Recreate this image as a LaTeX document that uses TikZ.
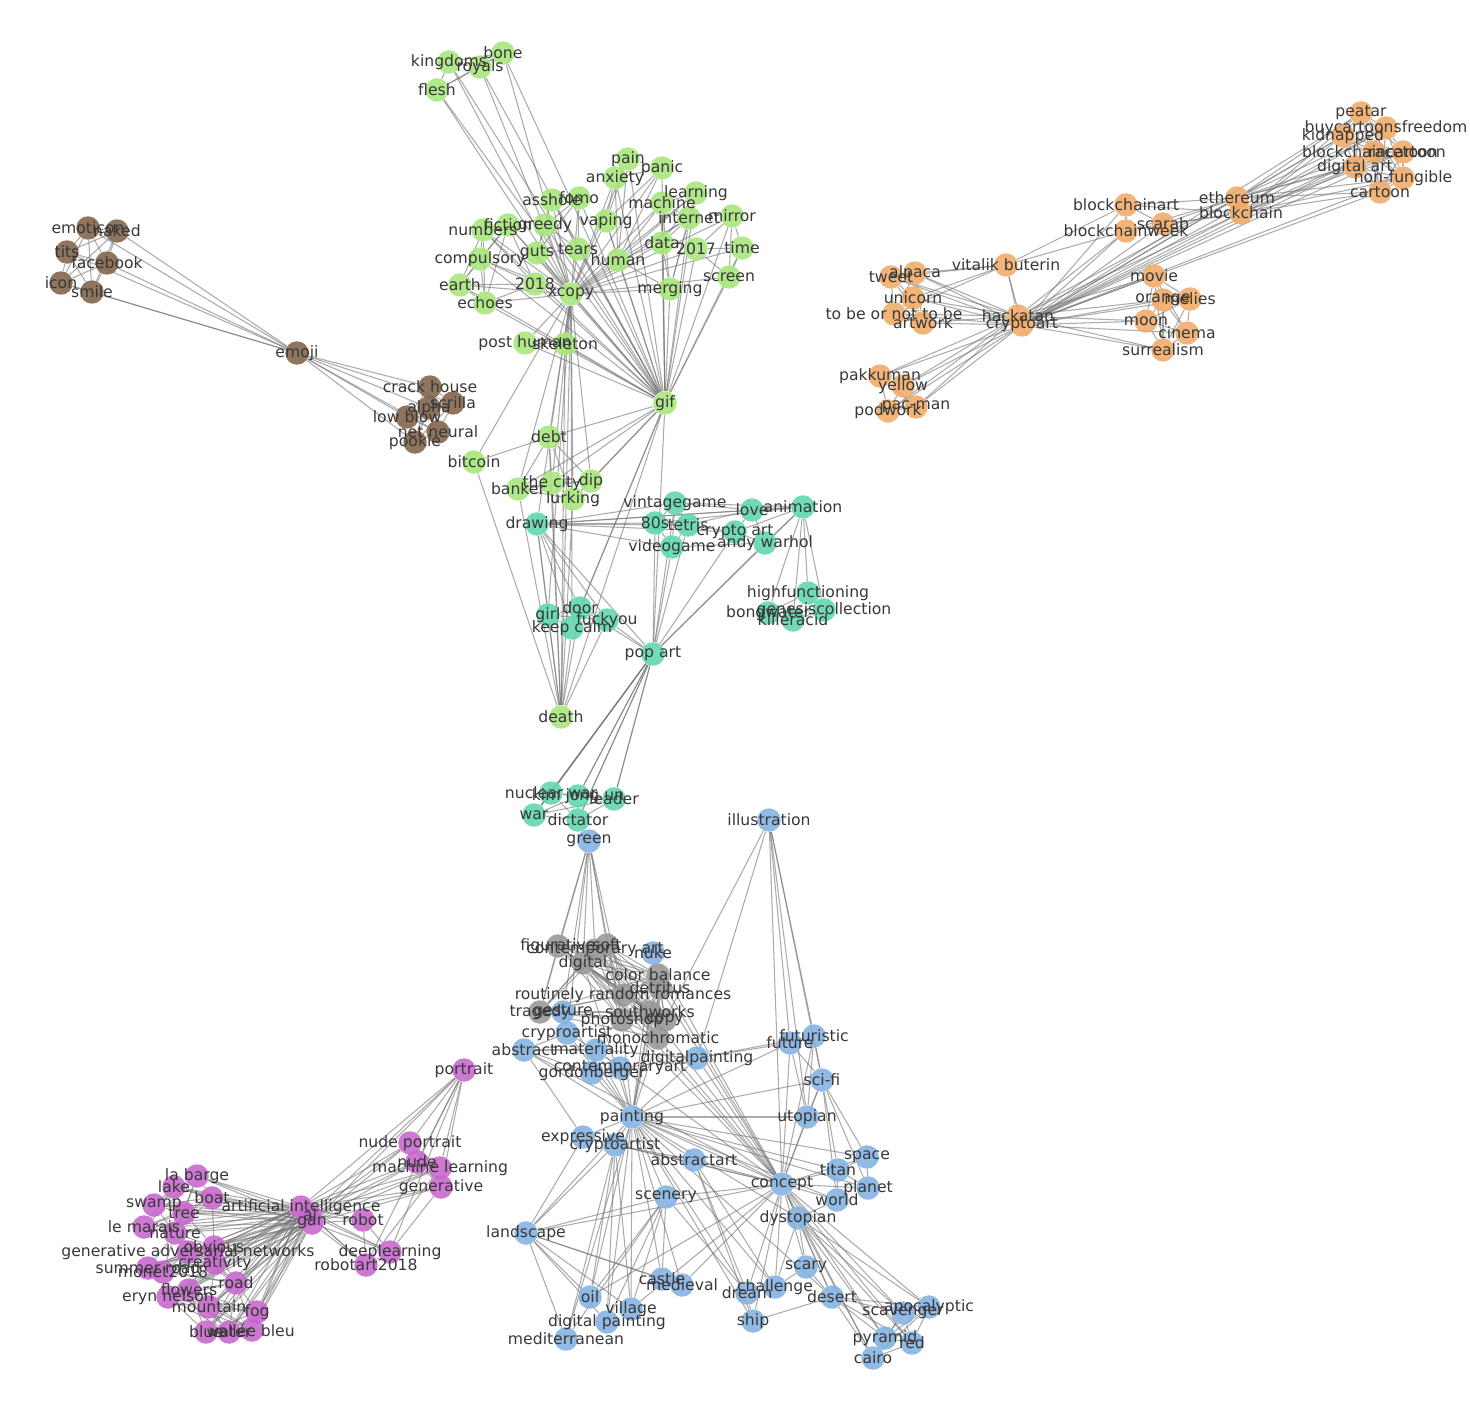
\documentclass[tikz,border=0pt]{standalone}
\usepackage{fontspec}
\setmainfont{DejaVu Sans}
\usetikzlibrary{positioning}
\definecolor{cbrn}{RGB}{128,98,72}
\definecolor{cgrn}{RGB}{166,230,122}
\definecolor{corg}{RGB}{240,170,102}
\definecolor{ctel}{RGB}{92,214,170}
\definecolor{cblu}{RGB}{130,176,224}
\definecolor{cgry}{RGB}{150,150,150}
\definecolor{cprp}{RGB}{198,102,204}
\pgfdeclarelayer{bg}\pgfdeclarelayer{fg}
\pgfsetlayers{bg,main,fg}

\begin{document}
\begin{tikzpicture}[x=0.02cm,y=-0.02cm,
  vtx/.style={circle,inner sep=0pt,minimum size=4.7mm,fill opacity=.88,draw=none},
  vbrn/.style={vtx,fill=cbrn}, vgrn/.style={vtx,fill=cgrn}, vorg/.style={vtx,fill=corg},
  vtel/.style={vtx,fill=ctel}, vblu/.style={vtx,fill=cblu}, vgry/.style={vtx,fill=cgry},
  vprp/.style={vtx,fill=cprp},
  lbl/.style={inner sep=0pt,text=black!78,font=\fontsize{8.9}{10}\selectfont},
  edge/.style={draw=black!55,draw opacity=.6,line width=.6pt}]
\useasboundingbox (0,0) rectangle (1470,1422);
% brown cluster
\foreach \n/\x/\y/\txt in {emoji/297/353/emoji, emoticon/88/228/emoticon, naked/117/231/naked,
  tits/67/252/tits, facebook/107/263/facebook, icon/61/283/icon, smile/92/292/smile,
  crackhouse/430/387/crack house, scrilla/453/403/scrilla, alpha/429/408/alpha,
  lowblow/407/417/low blow, netneural/438/432/net neural, pookie/415/442/pookie} {
  \node[vbrn] (\n) at (\x,\y) {};
  \begin{pgfonlayer}{fg}\node[lbl] at (\n) {\txt};\end{pgfonlayer}
}
% green cluster
\foreach \n/\x/\y/\txt in {kingdoms/449/62/kingdoms, royals/480/67/royals, bone/503/53/bone,
  flesh/437/90/flesh, pain/628/159/pain, panic/662/168/panic, anxiety/615/178/anxiety,
  learning/696/193/learning, asshole/552/200/asshole, fomo/579/198/fomo, machine/662/203/machine,
  vaping/606/221/vaping, internet/689/218/internet, mirror/732/216/mirror, numbers/483/230/numbers,
  fiction/508/225/fiction, greedy/545/225/greedy, guts/537/253/guts, tears/578/249/tears,
  human/618/260/human, data/662/243/data, y2017/696/249/2017, time/742/248/time,
  compulsory/480/259/compulsory, earth/460/285/earth, y2018/535/284/2018, xcopy/571/294/xcopy,
  merging/670/289/merging, screen/729/277/screen, echoes/485/303/echoes,
  posthuman/525/343/post human, skeleton/565/344/skeleton, gif/665/403/gif, debt/549/437/debt,
  bitcoin/474/462/bitcoin, banker/518/489/banker, thecity/552/483/the city, dip/591/481/dip,
  lurking/573/499/lurking, death/561/717/death} {
  \node[vgrn] (\n) at (\x,\y) {};
  \begin{pgfonlayer}{fg}\node[lbl] at (\n) {\txt};\end{pgfonlayer}
}
% orange cluster
\foreach \n/\x/\y/\txt in {peatar/1361/113/peatar, buycartoons/1386/128/buycartoonsfreedom,
  kidnapped/1343/136/kidnapped, blockcartoon/1374/152/blockchaincartoon, racetoon/1403/152/racetoon,
  digitalart/1355/167/digital art, nonfungible/1403/178/non-fungible, cartoon/1380/192/cartoon,
  ethereum/1237/198/ethereum, blockchain/1241/213/blockchain, blockchainart/1126/205/blockchainart,
  scarab/1163/224/scarab, blockchainweek/1126/231/blockchainweek, vitalik/1006/265/vitalik buterin,
  tweet/891/277/tweet, alpaca/915/273/alpaca, unicorn/913/298/unicorn, tobe/894/314/to be or not to be,
  artwork/923/323/artwork, hackatan/1018/316/hackatan, cryptoart/1022/325/cryptoart,
  movie/1154/276/movie, orange/1163/300/orange, melies/1190/299/melies, moon/1146/321/moon,
  cinema/1187/333/cinema, surrealism/1163/350/surrealism, pakkuman/880/376/pakkuman,
  yellow/903/386/yellow, podwork/888/411/podwork, pacman/916/407/pac-man} {
  \node[vorg] (\n) at (\x,\y) {};
  \begin{pgfonlayer}{fg}\node[lbl] at (\n) {\txt};\end{pgfonlayer}
}
% teal cluster
\foreach \n/\x/\y/\txt in {drawing/537/524/drawing, vintagegame/675/503/vintagegame, love/752/510/love,
  animation/803/507/animation, s80/655/523/80s, tetris/688/525/tetris, cryptoartb/735/532/crypto art,
  videogame/672/547/videogame, andywarhol/765/543/andy warhol, highfunc/808/593/highfunctioning,
  bongs/768/613/bongwater, genesis/824/610/genesiscollection, killeracid/793/620/killeracid,
  girl/548/615/girl, door/580/608/door, fuckyou/607/620/fuckyou, keepcalm/572/628/keep calm,
  popart/653/654/pop art, nuclearwar/551/793/nuclear war, kimjongun/578/796/kim jong un,
  leader/614/799/leader, war/534/815/war, dictator/578/820/dictator} {
  \node[vtel] (\n) at (\x,\y) {};
  \begin{pgfonlayer}{fg}\node[lbl] at (\n) {\txt};\end{pgfonlayer}
}
% gray cluster
\foreach \n/\x/\y/\txt in {figurative/558/946/figurative, contemp/595/950/contemporary art,
  soft/607/945/soft, digital/583/963/digital, colorbal/658/975/color balance,
  detritus/660/988/detritus, routinely/623/995/routinely random romances, tragedy/540/1012/tragedy,
  southworks/650/1012/southworks, photoshop/622/1020/photoshop, copyx/665/1020/copy,
  monochrom/658/1038/monochromatic} {
  \node[vgry] (\n) at (\x,\y) {};
  \begin{pgfonlayer}{fg}\node[lbl] at (\n) {\txt};\end{pgfonlayer}
}
% blue cluster
\foreach \n/\x/\y/\txt in {green/589/841/green, illustration/769/820/illustration, nuke/653/953/nuke,
  gesture/563/1012/gesture, cryproartist/567/1033/cryproartist, abstract/524/1050/abstract,
  materiality/596/1050/materiality, digitalpaint/697/1058/digitalpainting,
  contempart/620/1068/contemporaryart, gordon/592/1073/gordonberger, future/790/1043/future,
  futuristic/814/1036/futuristic, scifi/822/1080/sci-fi, utopian/807/1117/utopian,
  space/867/1157/space, titan/838/1170/titan, planet/868/1188/planet, concept/782/1184/concept,
  world/837/1200/world, dystopian/798/1218/dystopian, painting/632/1117/painting,
  expressive/583/1137/expressive, cryptoartist/615/1145/cryptoartist, abstractart/694/1160/abstractart,
  scenery/666/1197/scenery, landscape/526/1233/landscape, castle/662/1279/castle,
  medieval/682/1285/medieval, oil/590/1297/oil, village/631/1309/village,
  digpainting/607/1322/digital painting, mediterranean/566/1339/mediterranean, dream/747/1293/dream,
  ship/753/1321/ship, challenge/775/1287/challenge, scary/806/1267/scary, desert/832/1297/desert,
  scavenger/903/1313/scavenger, apocalyptic/929/1307/apocalyptic, pyramid/885/1338/pyramid,
  red/912/1343/red, cairo/873/1358/cairo} {
  \node[vblu] (\n) at (\x,\y) {};
  \begin{pgfonlayer}{fg}\node[lbl] at (\n) {\txt};\end{pgfonlayer}
}
% purple cluster
\foreach \n/\x/\y/\txt in {portrait/464/1070/portrait, nudeportrait/410/1143/nude portrait,
  nude/417/1162/nude, machinelearning/440/1168/machine learning, generative/441/1187/generative,
  labarge/197/1176/la barge, lake/174/1187/lake, boat/212/1198/boat, swamp/154/1205/swamp,
  tree/184/1213/tree, artint/301/1207/artificial intelligence, ai/310/1215/ai, gan/312/1223/gan,
  robot/363/1220/robot, lemarais/144/1227/le marais, nature/175/1233/nature, obvious/214/1247/obvious,
  gadv/188/1252/generative adversarial networks, creativity/215/1263/creativity,
  summerroad/148/1268/summer road, monet/163/1272/monet2018, robotart/366/1265/robotart2018,
  deeplearning/390/1252/deeplearning, road/236/1283/road, eryn/168/1297/eryn nelson,
  flowers/189/1290/flowers, mountain/209/1307/mountain, fog/257/1312/fog, blue/206/1332/blue,
  water/229/1332/water, vallee/252/1330/vallée bleu} {
  \node[vprp] (\n) at (\x,\y) {};
  \begin{pgfonlayer}{fg}\node[lbl] at (\n) {\txt};\end{pgfonlayer}
}
\begin{pgfonlayer}{bg}
% cliques
\foreach \grp in {{emoji,emoticon,naked,tits,facebook,icon,smile},
  {emoji,crackhouse,scrilla,alpha,lowblow,netneural,pookie},
  {flesh,kingdoms,royals,bone,xcopy,gif}, {pain,panic,anxiety,vaping,human},
  {machine,learning,internet,data,merging,human}, {asshole,fomo,greedy,guts,tears},
  {numbers,fiction,compulsory,earth,echoes,y2018}, {mirror,time,y2017,screen},
  {banker,thecity,dip,lurking,debt}, {girl,door,fuckyou,keepcalm,drawing,death},
  {vintagegame,s80,tetris,videogame}, {love,animation,cryptoartb,andywarhol},
  {animation,highfunc,bongs,genesis,killeracid}, {popart,nuclearwar,kimjongun,leader,war,dictator},
  {peatar,buycartoons,kidnapped,blockcartoon,racetoon,digitalart,nonfungible,cartoon},
  {blockchainart,blockchainweek,scarab,ethereum,blockchain}, {tweet,alpaca,unicorn,tobe,artwork},
  {movie,orange,melies,moon,cinema,surrealism}, {pakkuman,yellow,podwork,pacman},
  {figurative,contemp,soft,digital,colorbal,detritus,routinely,tragedy,southworks,photoshop,copyx,monochrom},
  {scavenger,apocalyptic,pyramid,red,cairo}, {labarge,lake,boat,swamp,tree,lemarais,nature},
  {nature,obvious,gadv,creativity,summerroad,monet,road},
  {eryn,flowers,mountain,fog,blue,water,vallee,road},
  {nudeportrait,nude,machinelearning,generative}, {robot,deeplearning,robotart}} {
  \foreach \a [count=\i] in \grp
    \foreach \b [count=\j] in \grp
      {\ifnum\j>\i \draw[edge] (\a) -- (\b);\fi}
}
% green hubs
\foreach \a in {pain,panic,anxiety,learning,asshole,fomo,machine,vaping,internet,mirror,numbers,
  fiction,greedy,guts,tears,human,data,y2017,time,compulsory,earth,y2018,merging,screen,echoes,
  posthuman,skeleton,debt,thecity,dip,banker,lurking,death} {
  \draw[edge] (xcopy) -- (\a);
  \draw[edge] (gif) -- (\a);
}
\foreach \a/\b in {posthuman/skeleton, debt/bitcoin, bitcoin/xcopy, bitcoin/death, death/banker,
  death/thecity, death/lurking, death/debt, death/skeleton, xcopy/girl, xcopy/keepcalm, xcopy/drawing,
  gif/door, gif/keepcalm, gif/popart}
  \draw[edge] (\a) -- (\b);
% teal
\foreach \a in {vintagegame,s80,tetris,videogame,love,animation,cryptoartb,popart}
  \draw[edge] (drawing) -- (\a);
\foreach \a in {s80,tetris,videogame,vintagegame,cryptoartb,andywarhol,animation,nuclearwar,
  kimjongun,leader,war,dictator,fuckyou,door}
  \draw[edge] (popart) -- (\a);
\foreach \a/\b in {vintagegame/love, vintagegame/animation, s80/animation, tetris/love,
  tetris/cryptoartb, videogame/andywarhol}
  \draw[edge] (\a) -- (\b);
% orange hubs
\foreach \a in {peatar,buycartoons,kidnapped,blockcartoon,racetoon,digitalart,nonfungible,cartoon} {
  \draw[edge] (ethereum) -- (\a);
  \draw[edge] (blockchain) -- (\a);
  \draw[edge] (cryptoart) -- (\a);
}
\foreach \a in {hackatan,ethereum,blockchain,blockchainart,blockchainweek,scarab,vitalik,tweet,
  alpaca,unicorn,tobe,artwork,movie,orange,melies,moon,cinema,surrealism,pakkuman,yellow,podwork,pacman}
  \draw[edge] (cryptoart) -- (\a);
\foreach \a in {vitalik,tweet,alpaca,unicorn,tobe,artwork,movie,orange,moon,surrealism,pakkuman,
  yellow,podwork,pacman,blockchainweek,ethereum,blockchain}
  \draw[edge] (hackatan) -- (\a);
\foreach \a in {tweet,alpaca,unicorn,tobe,blockchainweek,blockchainart}
  \draw[edge] (vitalik) -- (\a);
% gray / blue
\foreach \a in {figurative,contemp,soft,digital,routinely,photoshop,tragedy,gesture,cryproartist}
  \draw[edge] (green) -- (\a);
\foreach \a in {digital,photoshop,monochrom,southworks,detritus,nuke,colorbal}
  {\draw[edge] (painting) -- (\a); \draw[edge] (concept) -- (\a);}
\foreach \a in {digitalpaint,future,futuristic,utopian,concept,scifi,copyx}
  \draw[edge] (illustration) -- (\a);
\foreach \a in {expressive,cryptoartist,abstractart,scenery,landscape,castle,medieval,oil,village,
  digpainting,mediterranean,dream,ship,challenge,concept,utopian,scifi,future,digitalpaint,abstract,
  materiality,contempart,gordon,cryproartist,gesture,space,titan,planet,world,dystopian,desert}
  \draw[edge] (painting) -- (\a);
\foreach \a in {dystopian,world,titan,planet,space,scary,desert,scavenger,apocalyptic,pyramid,red,
  cairo,dream,challenge,ship,abstractart,utopian,scifi,future,futuristic,landscape,oil,village,
  scenery,digitalpaint,medieval,abstract,materiality,cryptoartist,expressive}
  \draw[edge] (concept) -- (\a);
\foreach \a in {scavenger,apocalyptic,pyramid,red,cairo,desert,scary,challenge,world}
  \draw[edge] (dystopian) -- (\a);
\foreach \a in {pyramid,cairo,red,scavenger,apocalyptic,ship,scary}
  \draw[edge] (desert) -- (\a);
\foreach \a in {scenery,cryptoartist,castle,medieval,oil,village,digpainting,mediterranean}
  \draw[edge] (landscape) -- (\a);
\foreach \a in {oil,village,digpainting,castle,mediterranean,dream}
  \draw[edge] (scenery) -- (\a);
\foreach \a/\b in {future/futuristic, future/scifi, futuristic/scifi, scifi/space, scifi/titan,
  scifi/planet, futuristic/utopian, future/utopian, space/planet, titan/planet, world/titan,
  scifi/world, space/titan, utopian/scifi, future/digitalpaint, futuristic/digitalpaint,
  abstractart/dream, abstractart/ship, abstractart/challenge, abstractart/cryptoartist,
  dream/ship, dream/challenge, challenge/scary, abstract/materiality, abstract/cryproartist,
  abstract/gordon, abstract/expressive, materiality/gordon, materiality/contempart,
  contempart/gordon, contempart/digitalpaint, materiality/digitalpaint, gesture/cryproartist,
  cryproartist/materiality, expressive/cryptoartist, expressive/landscape, cryptoartist/oil,
  cryptoartist/village, cryptoartist/mediterranean, cryptoartist/digpainting}
  \draw[edge] (\a) -- (\b);
% purple hubs
\foreach \a in {labarge,lake,boat,swamp,tree,lemarais,nature,obvious,gadv,creativity,summerroad,
  monet,road,eryn,flowers,mountain,fog,blue,water,vallee,portrait,nudeportrait,nude,
  machinelearning,generative,robot,deeplearning,robotart} {
  \draw[edge] (artint) -- (\a);
  \draw[edge] (ai) -- (\a);
  \draw[edge] (gan) -- (\a);
}
\foreach \a in {nudeportrait,nude,machinelearning,generative,deeplearning,robotart}
  \draw[edge] (portrait) -- (\a);
\foreach \a/\b in {generative/deeplearning, machinelearning/robotart, obvious/flowers,
  creativity/mountain, tree/obvious, boat/creativity}
  \draw[edge] (\a) -- (\b);
\end{pgfonlayer}
\end{tikzpicture}
\end{document}
